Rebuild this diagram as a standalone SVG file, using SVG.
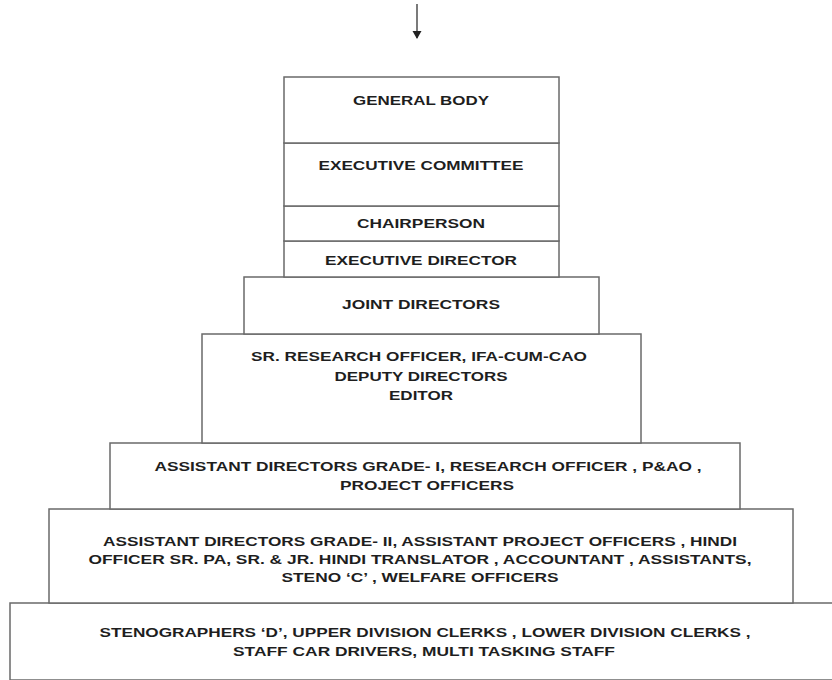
<svg xmlns="http://www.w3.org/2000/svg" width="832" height="680" viewBox="0 0 832 680">
<defs>
<marker id="ah" markerWidth="10" markerHeight="10" refX="7" refY="4.5" orient="auto" markerUnits="userSpaceOnUse">
<path d="M0,0 L8,4.5 L0,9 Z" fill="#222"/>
</marker>
</defs>
<style>
rect{fill:#fff;stroke:#6a6a6a;stroke-width:1.5}
text{font-family:"Liberation Sans",Arial,sans-serif;font-weight:bold;font-size:13px;fill:#1e1e1e;text-anchor:middle}
.c{stroke:#333;stroke-width:1.3;fill:none}
</style>
<rect x="0" y="0" width="832" height="680" style="stroke:none"/>
<g id="connectors">
<line class="c" x1="417" y1="4" x2="417" y2="38" marker-end="url(#ah)"/>
</g>
<g id="staff">
<rect x="10" y="603" width="830" height="77"/>
<text x="425" y="637" textLength="651" lengthAdjust="spacingAndGlyphs">STENOGRAPHERS ‘D’, UPPER DIVISION CLERKS , LOWER DIVISION CLERKS ,</text>
<text x="424" y="656" textLength="382" lengthAdjust="spacingAndGlyphs">STAFF CAR DRIVERS, MULTI TASKING STAFF</text>
</g>
<g id="grade2">
<rect x="49" y="509" width="744" height="94"/>
<text x="420" y="546" textLength="634" lengthAdjust="spacingAndGlyphs">ASSISTANT DIRECTORS GRADE- II, ASSISTANT PROJECT OFFICERS , HINDI</text>
<text x="420" y="564" textLength="663" lengthAdjust="spacingAndGlyphs">OFFICER SR. PA, SR. &amp; JR. HINDI TRANSLATOR , ACCOUNTANT , ASSISTANTS,</text>
<text x="420" y="582" textLength="277" lengthAdjust="spacingAndGlyphs">STENO ‘C’ , WELFARE OFFICERS</text>
</g>
<g id="grade1">
<rect x="110" y="443" width="630" height="66"/>
<text x="428" y="471" textLength="547" lengthAdjust="spacingAndGlyphs">ASSISTANT DIRECTORS GRADE- I, RESEARCH OFFICER , P&amp;AO ,</text>
<text x="427" y="490" textLength="174" lengthAdjust="spacingAndGlyphs">PROJECT OFFICERS</text>
</g>
<g id="deputy">
<rect x="202" y="334" width="439" height="109"/>
<text x="419" y="361" textLength="336" lengthAdjust="spacingAndGlyphs">SR. RESEARCH OFFICER, IFA-CUM-CAO</text>
<text x="421" y="381" textLength="173" lengthAdjust="spacingAndGlyphs">DEPUTY DIRECTORS</text>
<text x="421" y="400" textLength="64" lengthAdjust="spacingAndGlyphs">EDITOR</text>
</g>
<g id="joint">
<rect x="244" y="277" width="355" height="57"/>
<text x="421" y="309" textLength="158" lengthAdjust="spacingAndGlyphs">JOINT DIRECTORS</text>
</g>
<g id="exec-director">
<rect x="284" y="241" width="275" height="36"/>
<text x="421" y="265" textLength="192" lengthAdjust="spacingAndGlyphs">EXECUTIVE DIRECTOR</text>
</g>
<g id="chairperson">
<rect x="284" y="206" width="275" height="35"/>
<text x="421" y="228" textLength="128" lengthAdjust="spacingAndGlyphs">CHAIRPERSON</text>
</g>
<g id="exec-committee">
<rect x="284" y="143" width="275" height="63"/>
<text x="421" y="170" textLength="205" lengthAdjust="spacingAndGlyphs">EXECUTIVE COMMITTEE</text>
</g>
<g id="general-body">
<rect x="284" y="77" width="275" height="66"/>
<text x="421" y="105" textLength="136" lengthAdjust="spacingAndGlyphs">GENERAL BODY</text>
</g>
</svg>
